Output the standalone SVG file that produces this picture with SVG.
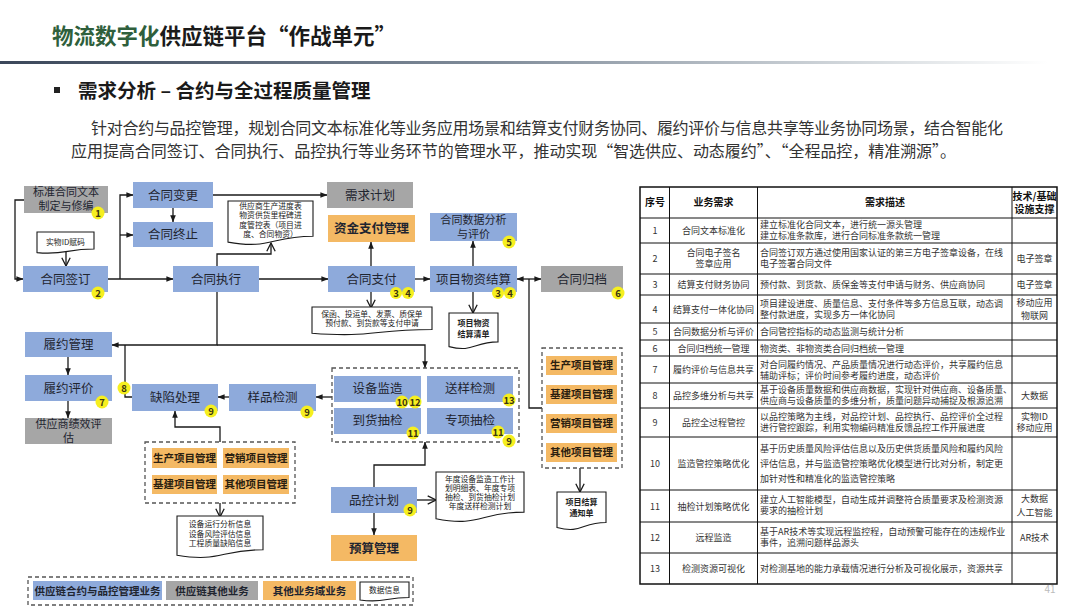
<svg xmlns="http://www.w3.org/2000/svg" width="1080" height="608" viewBox="0 0 1080 608">
<defs>
<linearGradient id="sep" x1="0" y1="0" x2="1" y2="0">
<stop offset="0" stop-color="#3b475a"/>
<stop offset="0.45" stop-color="#7f8b99"/>
<stop offset="0.8" stop-color="#d5dade"/>
<stop offset="0.97" stop-color="#ffffff"/>
</linearGradient>
<marker id="a" viewBox="0 0 10 10" refX="9.5" refY="5" markerWidth="7" markerHeight="7" orient="auto-start-reverse" markerUnits="userSpaceOnUse"><path d="M0,1 L10,5 L0,9 z" fill="#1a1a1a"/></marker>
<marker id="v" viewBox="0 0 10 10" refX="9.3" refY="5" markerWidth="10" markerHeight="10" orient="auto" markerUnits="userSpaceOnUse"><path d="M1,0.8 L9.3,5 L1,9.2" fill="none" stroke="#1a1a1a" stroke-width="1.3"/></marker>
</defs>
<style>
text{font-family:"Noto Sans CJK SC","Noto Sans",sans-serif}
.b{fill:#8eaadb}
.g{fill:#a6a6a6}
.o{fill:#f4b964}
.t{font-size:12.5px;fill:#1f2530;text-anchor:middle}
.t2{font-size:11px;fill:#1f2530;text-anchor:middle}
.ot{font-size:10.5px;font-weight:bold;fill:#2a2010;text-anchor:middle}
.ln{fill:none;stroke:#1a1a1a;stroke-width:1.3}
.doc{fill:#fff;stroke:#1a1a1a;stroke-width:1.1}
.dt{font-size:7.8px;fill:#222;text-anchor:middle}
.dtb{font-size:8px;font-weight:bold;fill:#222;text-anchor:middle}
.bd circle{fill:#f6ef1f}
.bd text{font-size:9.5px;font-weight:bold;fill:#3a3410;text-anchor:middle}
.dash{fill:none;stroke:#555;stroke-width:1.3;stroke-dasharray:4 3}
.tb{fill:none;stroke:#111;stroke-width:1}
.tc{font-size:9px;fill:#333;text-anchor:middle}
.td{font-size:9px;fill:#333}
.th{font-size:10px;font-weight:bold;fill:#111;text-anchor:middle}
</style>
<rect width="1080" height="608" fill="#fff"/>

<!-- Header -->
<g id="header">
<text x="52" y="44" font-size="21.5" font-weight="bold"><tspan fill="#2f5f3c">物流数字化</tspan><tspan fill="#1a1a1a">供应链平台“作战单元”</tspan></text>
<rect x="0" y="61" width="1080" height="3" fill="url(#sep)"/>
<rect x="54" y="87" width="6" height="6" fill="#222"/>
<text x="78" y="98" font-size="19.5" font-weight="bold" fill="#1a1a1a">需求分析 – 合约与全过程质量管理</text>
<text x="91" y="134" font-size="16" fill="#333" textLength="912" lengthAdjust="spacing">针对合约与品控管理，规划合同文本标准化等业务应用场景和结算支付财务协同、履约评价与信息共享等业务协同场景，结合智能化</text>
<text x="71" y="157" font-size="16" fill="#333" textLength="885" lengthAdjust="spacing">应用提高合同签订、合同执行、品控执行等业务环节的管理水平，推动实现“智选供应、动态履约”、“全程品控，精准溯源”。</text>
</g>

<!-- Connectors -->
<g id="connectors">
<path class="ln" d="M24,200 H15 V279 H23" marker-end="url(#a)"/>
<path class="ln" d="M66,252 V266" marker-end="url(#v)"/>
<path class="ln" d="M108,279 H173" marker-end="url(#a)"/>
<path class="ln" d="M120,279 V195 H133" marker-end="url(#a)"/>
<path class="ln" d="M120,235 H133" marker-end="url(#a)"/>
<path class="ln" d="M173,208 V222" marker-end="url(#a)"/>
<path class="ln" d="M213,195 H327" marker-end="url(#a)"/>
<path class="ln" d="M217,266 V254 H271 V243" marker-end="url(#v)"/>
<path class="ln" d="M259,279 H328" marker-end="url(#a)"/>
<path class="ln" d="M217,292 V345 H112" marker-end="url(#a)"/>
<path class="ln" d="M217,345 H425 V368" marker-end="url(#a)"/>
<path class="ln" d="M132,397 H125 V345"/>
<path class="ln" d="M68,357 V375" marker-end="url(#a)"/>
<path class="ln" d="M68,401 V418" marker-end="url(#a)"/>
<path class="ln" d="M229,397 H218" marker-end="url(#a)"/>
<path class="ln" d="M332,397 H316" marker-end="url(#a)"/>
<path class="ln" d="M220,442 V427 H175 V411" marker-end="url(#a)"/>
<path class="ln" d="M220,503 V517" marker-end="url(#v)"/>
<path class="ln" d="M371,266 V242" marker-end="url(#a)"/>
<path class="ln" d="M371,292 V308" marker-end="url(#v)"/>
<path class="ln" d="M415,279 H430" marker-end="url(#a)"/>
<path class="ln" d="M473,266 V241" marker-end="url(#a)"/>
<path class="ln" d="M473,292 V313" marker-end="url(#v)"/>
<path class="ln" d="M517,279 H541" marker-start="url(#a)" marker-end="url(#a)"/>
<path class="ln" d="M542,408 H529 V279"/>
<path class="ln" d="M580,468 V492" marker-end="url(#v)"/>
<path class="ln" d="M374,487 V465 H425 V442" marker-end="url(#a)"/>
<path class="ln" d="M417,500 H436" marker-end="url(#v)"/>
<path class="ln" d="M374,513 V535" marker-end="url(#a)"/>
</g>

<!-- Nodes -->
<g id="n-std"><rect class="g" x="24" y="186" width="84" height="27"/><text class="t2" x="66" y="196">标准合同文本</text><text class="t2" x="66" y="210">制定与修编</text></g>
<g id="n-change"><rect class="b" x="133" y="182" width="80" height="26"/><text class="t" x="173" y="199.5">合同变更</text></g>
<g id="n-stop"><rect class="b" x="133" y="222" width="80" height="25"/><text class="t" x="173" y="239">合同终止</text></g>
<g id="d-id"><path class="doc" d="M37,232 H94 V249 C65.5,249 65.5,255.2 37,252.6 Z"/><text class="dt" x="65.5" y="244.5">实物ID赋码</text></g>
<g id="n-sign"><rect class="b" x="23" y="266" width="85" height="26"/><text class="t" x="65.5" y="283.5">合同签订</text></g>
<g id="n-exec"><rect class="b" x="173" y="266" width="86" height="26"/><text class="t" x="216" y="283.5">合同执行</text></g>
<g id="d-progress"><path class="doc" d="M228,201 H313 V236.3 C270.5,236.3 270.5,249.7 228,242.1 Z"/><text class="dt" x="270.5" y="208.5">供应商生产进度表</text><text class="dt" x="270.5" y="218">物资供货里程碑进</text><text class="dt" x="270.5" y="227.5">度管控表（项目进</text><text class="dt" x="270.5" y="237">度、合同物资）</text></g>
<g id="n-plan"><rect class="g" x="327" y="182" width="86" height="26"/><text class="t" x="370" y="199.5">需求计划</text></g>
<g id="n-fund"><rect class="o" x="328" y="215" width="87" height="27"/><text class="t" x="371.5" y="233" font-weight="bold">资金支付管理</text></g>
<g id="n-analysis"><rect class="b" x="430" y="213" width="87" height="28"/><text class="t2" x="473.5" y="224">合同数据分析</text><text class="t2" x="473.5" y="238">与评价</text></g>
<g id="n-pay"><rect class="b" x="328" y="266" width="87" height="26"/><text class="t" x="371.5" y="283.5">合同支付</text></g>
<g id="n-settle"><rect class="b" x="430" y="266" width="87" height="26"/><text class="t" x="473.5" y="283.5">项目物资结算</text></g>
<g id="n-archive"><rect class="g" x="541" y="266" width="82" height="26"/><text class="t" x="582" y="283.5">合同归档</text></g>
<g id="d-paydoc"><path class="doc" d="M312,307 H432 V329.5 C372,329.5 372,338 312,333.2 Z"/><text class="dt" x="372" y="316.5">保函、投运单、发票、质保单</text><text class="dt" x="372" y="326">预付款、到货款等支付申请</text></g>
<g id="d-settlelist"><path class="doc" d="M449,313 H498 V341.9 C473.5,341.9 473.5,352.9 449,346.6 Z"/><text class="dtb" x="473.5" y="326">项目物资</text><text class="dtb" x="473.5" y="337">结算清单</text></g>
<g id="n-perf"><rect class="b" x="25" y="332" width="87" height="25"/><text class="t" x="68.5" y="349">履约管理</text></g>
<g id="n-eval"><rect class="b" x="25" y="375" width="87" height="26"/><text class="t" x="68.5" y="392.5">履约评价</text></g>
<g id="n-supplier"><rect class="g" x="25" y="418" width="87" height="26"/><text class="t2" x="68.5" y="428">供应商绩效评</text><text class="t2" x="68.5" y="442">估</text></g>
<g id="n-defect"><rect class="b" x="132" y="384" width="86" height="27"/><text class="t" x="175" y="402">缺陷处理</text></g>
<g id="n-sample"><rect class="b" x="229" y="384" width="87" height="27"/><text class="t" x="272.5" y="402">样品检测</text></g>
<g id="grp-left"><rect class="dash" x="145" y="442" width="150" height="61"/>
<rect class="o" x="152" y="448" width="65" height="20"/><text class="ot" x="184.5" y="461.5">生产项目管理</text>
<rect class="o" x="223" y="448" width="66" height="20"/><text class="ot" x="256" y="461.5">营销项目管理</text>
<rect class="o" x="152" y="475" width="65" height="19"/><text class="ot" x="184.5" y="488">基建项目管理</text>
<rect class="o" x="223" y="475" width="66" height="19"/><text class="ot" x="256" y="488">其他项目管理</text></g>
<g id="d-equip"><path class="doc" d="M177,516 H263 V549.7 C220,549.7 220,562.5 177,555.2 Z"/><text class="dt" x="220" y="527">设备运行分析信息</text><text class="dt" x="220" y="536.5">设备风险评估信息</text><text class="dt" x="220" y="546">工程质量缺陷信息</text></g>
<g id="grp-qc"><rect class="dash" x="332" y="368" width="187" height="74"/>
<rect class="b" x="334" y="376" width="87" height="26"/><text class="t" x="377.5" y="393">设备监造</text>
<rect class="b" x="427" y="376" width="86" height="26"/><text class="t" x="470" y="393">送样检测</text>
<rect class="b" x="334" y="408" width="87" height="26"/><text class="t" x="377.5" y="425">到货抽检</text>
<rect class="b" x="427" y="408" width="86" height="26"/><text class="t" x="470" y="425">专项抽检</text></g>
<g id="n-qcplan"><rect class="b" x="331" y="487" width="86" height="26"/><text class="t" x="374" y="504.5">品控计划</text></g>
<g id="n-budget"><rect class="o" x="331" y="535" width="86" height="26"/><text class="t" x="374" y="552.5" font-weight="bold">预算管理</text></g>
<g id="d-annual"><path class="doc" d="M436,472 H524 V512.1 C480,512.1 480,527.4 436,518.7 Z"/><text class="dt" x="480" y="482">年度设备监造工作计</text><text class="dt" x="480" y="491">划明细表、年度专项</text><text class="dt" x="480" y="500">抽检、到货抽检计划</text><text class="dt" x="480" y="509">年度送样检测计划</text></g>
<g id="grp-right"><rect class="dash" x="542" y="348" width="80" height="120"/>
<rect class="o" x="546" y="356" width="71" height="19"/><text class="ot" x="581.5" y="369">生产项目管理</text>
<rect class="o" x="546" y="385" width="71" height="19"/><text class="ot" x="581.5" y="398">基建项目管理</text>
<rect class="o" x="546" y="414" width="71" height="19"/><text class="ot" x="581.5" y="427">营销项目管理</text>
<rect class="o" x="546" y="443" width="71" height="19"/><text class="ot" x="581.5" y="456">其他项目管理</text></g>
<g id="d-notice"><path class="doc" d="M557,492 H606 V522.5 C581.5,522.5 581.5,534 557,527.5 Z"/><text class="dtb" x="581.5" y="505">项目结算</text><text class="dtb" x="581.5" y="515.5">通知单</text></g>

<!-- Badges -->
<g class="bd">
<circle cx="98" cy="213" r="6.5"/><text x="98" y="216.5">1</text>
<circle cx="98" cy="293" r="6.5"/><text x="98" y="296.5">2</text>
<circle cx="509" cy="242" r="6.5"/><text x="509" y="245.5">5</text>
<circle cx="396" cy="293" r="6"/><text x="396" y="296.5">3</text>
<circle cx="408" cy="293" r="6"/><text x="408" y="296.5">4</text>
<circle cx="498" cy="293" r="6"/><text x="498" y="296.5">3</text>
<circle cx="510" cy="293" r="6"/><text x="510" y="296.5">4</text>
<circle cx="618" cy="293" r="6.5"/><text x="618" y="296.5">6</text>
<circle cx="102" cy="402" r="6.5"/><text x="102" y="405.5">7</text>
<circle cx="124" cy="388" r="6.5"/><text x="124" y="391.5">8</text>
<circle cx="211" cy="411" r="6.5"/><text x="211" y="414.5">9</text>
<circle cx="307" cy="412" r="6.5"/><text x="307" y="415.5">9</text>
<circle cx="402" cy="402" r="6.5"/><text x="402" y="405.5">10</text>
<circle cx="415" cy="402" r="6.5"/><text x="415" y="405.5">12</text>
<circle cx="509" cy="400" r="6.5"/><text x="509" y="403.5">13</text>
<circle cx="413" cy="433" r="6.5"/><text x="413" y="436.5">11</text>
<circle cx="498" cy="432" r="6.5"/><text x="498" y="435.5">11</text>
<circle cx="509" cy="441" r="6.5"/><text x="509" y="444.5">9</text>
<circle cx="410" cy="510" r="6.5"/><text x="410" y="513.5">9</text>
</g>

<!-- Legend -->
<g id="legend">
<rect class="dash" x="28" y="577" width="385" height="28"/>
<rect class="b" x="33" y="581" width="129" height="19"/><text x="97.5" y="594.5" font-size="10.5" font-weight="bold" fill="#1f2530" text-anchor="middle">供应链合约与品控管理业务</text>
<rect class="g" x="166" y="581" width="92" height="19"/><text x="212" y="594.5" font-size="10.5" font-weight="bold" fill="#1f2530" text-anchor="middle">供应链其他业务</text>
<rect class="o" x="263" y="581" width="93" height="19"/><text x="309.5" y="594.5" font-size="10.5" font-weight="bold" fill="#1f2530" text-anchor="middle">其他业务域业务</text>
<path class="doc" d="M360,582 H409 V597.5 C384.5,597.5 384.5,603.4 360,600 Z"/><text class="dt" x="384.5" y="593">数据信息</text>
</g>

<!-- Table -->
<g id="table">
<rect x="640" y="187" width="417" height="397" fill="#fff" stroke="#111" stroke-width="1.5"/>
<path class="tb" d="M669.5,187 V584 M757.5,187 V584 M1012,187 V584"/>
<path class="tb" d="M640,218 H1057 M640,243 H1057 M640,274 H1057 M640,295 H1057 M640,323 H1057 M640,340 H1057 M640,356 H1057 M640,383 H1057 M640,408 H1057 M640,437 H1057 M640,490 H1057 M640,522 H1057 M640,553 H1057"/>
<text class="th" x="655" y="206">序号</text>
<text class="th" x="713.5" y="206">业务需求</text>
<text class="th" x="885" y="206">需求描述</text>
<text class="th" x="1034.5" y="200" font-size="10.5">技术/基础</text>
<text class="th" x="1034.5" y="213" font-size="10.5">设施支撑</text>

<text class="tc" x="655" y="234">1</text><text class="tc" x="713.5" y="234">合同文本标准化</text>
<text class="td" x="760" y="228">建立标准化合同文本，进行统一源头管理</text><text class="td" x="760" y="239">建立标准条款库，进行合同标准条款统一管理</text>

<text class="tc" x="655" y="262">2</text><text class="tc" x="713.5" y="256">合同电子签名</text><text class="tc" x="713.5" y="267">签章应用</text>
<text class="td" x="760" y="256">合同签订双方通过使用国家认证的第三方电子签章设备，在线</text><text class="td" x="760" y="267">电子签署合同文件</text><text class="tc" x="1034.5" y="262">电子签章</text>

<text class="tc" x="655" y="288">3</text><text class="tc" x="713.5" y="288">结算支付财务协同</text>
<text class="td" x="760" y="288">预付款、到货款、质保金等支付申请与财务、供应商协同</text><text class="tc" x="1034.5" y="288">电子签章</text>

<text class="tc" x="655" y="312.5">4</text><text class="tc" x="713.5" y="312.5">结算支付一体化协同</text>
<text class="td" x="760" y="307">项目建设进度、质量信息、支付条件等多方信息互联，动态调</text><text class="td" x="760" y="318">整付款进度，实现多方一体化协同</text>
<text class="tc" x="1034.5" y="306">移动应用</text><text class="tc" x="1034.5" y="319">物联网</text>

<text class="tc" x="655" y="335">5</text><text class="tc" x="713.5" y="335">合同数据分析与评价</text><text class="td" x="760" y="335">合同管控指标的动态监测与统计分析</text>

<text class="tc" x="655" y="351.5">6</text><text class="tc" x="713.5" y="351.5">合同归档统一管理</text><text class="td" x="760" y="351.5">物资类、非物资类合同归档统一管理</text>

<text class="tc" x="655" y="373">7</text><text class="tc" x="713.5" y="373">履约评价与信息共享</text>
<text class="td" x="760" y="367.5">对合同履约情况、产品质量情况进行动态评价，共享履约信息</text><text class="td" x="760" y="378.5">辅助评标；评价时间参考履约进度，动态评价</text>

<text class="tc" x="655" y="399">8</text><text class="tc" x="713.5" y="399">品控多维分析与共享</text>
<text class="td" x="760" y="393">基于设备质量数据和供应商数据，实现针对供应商、设备质量、</text><text class="td" x="760" y="404">供应商与设备质量的多维分析，质量问题异动捕捉及根源追溯</text><text class="tc" x="1034.5" y="399">大数据</text>

<text class="tc" x="655" y="426">9</text><text class="tc" x="713.5" y="426">品控全过程管控</text>
<text class="td" x="760" y="420">以品控策略为主线，对品控计划、品控执行、品控评价全过程</text><text class="td" x="760" y="431">进行管控跟踪，利用实物编码精准反馈品控工作开展进度</text>
<text class="tc" x="1034.5" y="420">实物ID</text><text class="tc" x="1034.5" y="431">移动应用</text>

<text class="tc" x="655" y="467">10</text><text class="tc" x="713.5" y="467">监造管控策略优化</text>
<text class="td" x="760" y="452">基于历史质量风险评估信息以及历史供货质量风险和履约风险</text><text class="td" x="760" y="467">评估信息，并与监造管控策略优化模型进行比对分析，制定更</text><text class="td" x="760" y="482">加针对性和精准化的监造管控策略</text>

<text class="tc" x="655" y="509.5">11</text><text class="tc" x="713.5" y="509.5">抽检计划策略优化</text>
<text class="td" x="760" y="503">建立人工智能模型，自动生成并调整符合质量要求及检测资源</text><text class="td" x="760" y="514">要求的抽检计划</text>
<text class="tc" x="1034.5" y="502">大数据</text><text class="tc" x="1034.5" y="516">人工智能</text>

<text class="tc" x="655" y="541">12</text><text class="tc" x="713.5" y="541">远程监造</text>
<text class="td" x="760" y="535">基于AR技术等实现远程监控程，自动预警可能存在的违规作业</text><text class="td" x="760" y="546">事件，追溯问题样品源头</text><text class="tc" x="1034.5" y="541">AR技术</text>

<text class="tc" x="655" y="572">13</text><text class="tc" x="713.5" y="572">检测资源可视化</text><text class="td" x="760" y="572">对检测基地的能力承载情况进行分析及可视化展示，资源共享</text>
</g>
<text x="1050" y="593" font-size="10" fill="#bbb" text-anchor="middle">41</text>
</svg>
